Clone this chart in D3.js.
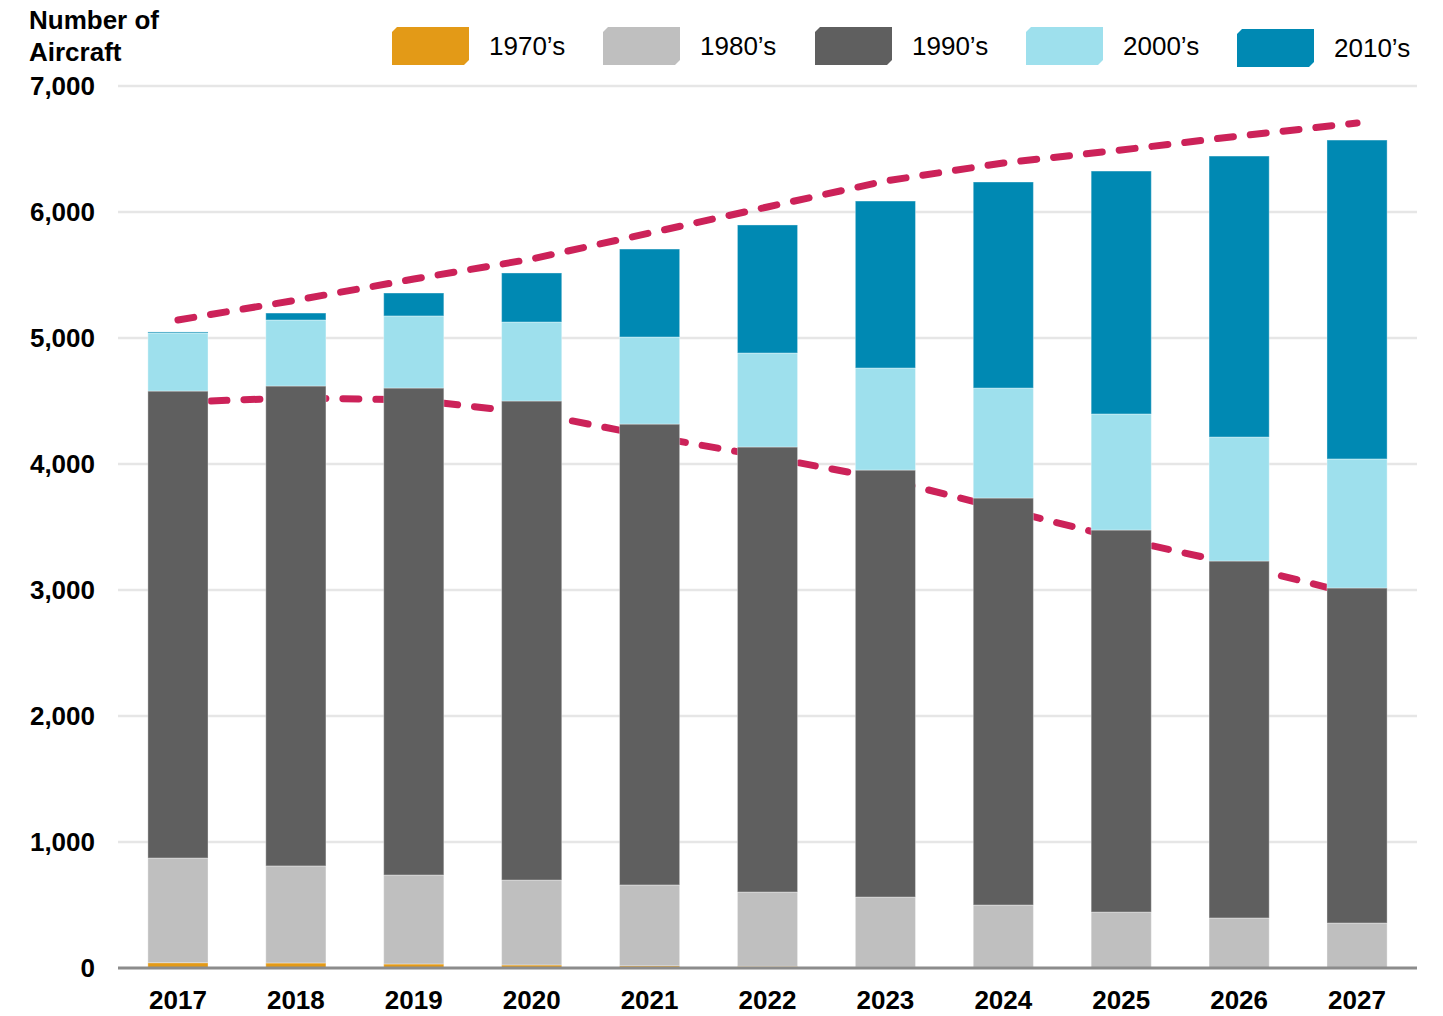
<!DOCTYPE html>
<html>
<head>
<meta charset="utf-8">
<script src="https://cdn.jsdelivr.net/npm/d3@7"></script>
<style>
  body { margin: 0; background: #fff; }
  svg text { font-family: "Liberation Sans", Arial, sans-serif; fill: #000; }
</style>
</head>
<body>
<svg width="1443" height="1016"></svg>
<script>
"use strict";

const years = ["2017","2018","2019","2020","2021","2022","2023","2024","2025","2026","2027"];
const decades = ["1970\u2019s","1980\u2019s","1990\u2019s","2000\u2019s","2010\u2019s"];
const s1970 = [42, 40, 32, 24, 17, 13, 8, 6, 3, 2, 1];
const s1980 = [831, 770, 706, 674, 642, 590, 555, 494, 441, 395, 356];
const s1990 = [3706, 3809, 3865, 3802, 3658, 3532, 3389, 3230, 3032, 2833, 2659];
const s2000 = [461, 524, 572, 627, 691, 746, 810, 873, 921, 984, 1024];
const s2010 = [8, 55, 182, 389, 698, 1016, 1325, 1635, 1928, 2230, 2531];
const upperTrend = [5143, 5300, 5468, 5627, 5833, 6040, 6246, 6389, 6492, 6603, 6706];
const lowerTrend = [4492, 4524, 4508, 4405, 4222, 4056, 3881, 3643, 3405, 3198, 2960];
const yTicks = [0, 1000, 2000, 3000, 4000, 5000, 6000, 7000];
const colors = ["#e39a17", "#bfbfbf", "#5f5f5f", "#9ee0ed", "#0089b3"];

const svg = d3.select("svg");

const x = d3.scaleBand().domain(years).range([119, 1416]).paddingInner(0.49).paddingOuter(0.245);
const y = d3.scaleLinear().domain([0, 7000]).range([968, 86]);

// table for the stack
const series = [s1970, s1980, s1990, s2000, s2010];
const table = years.map((yr, i) => {
  const row = { year: yr };
  decades.forEach((d, k) => row[d] = series[k][i]);
  return row;
});
const stacked = d3.stack().keys(decades)(table);

// gridlines
svg.append("g")
  .selectAll("line")
  .data(yTicks.filter(t => t > 0))
  .join("line")
  .attr("x1", 118).attr("x2", 1417)
  .attr("y1", d => y(d)).attr("y2", d => y(d))
  .attr("stroke", "#e6e6e6")
  .attr("stroke-width", 2.5);

// y tick labels
svg.append("g")
  .selectAll("text")
  .data(yTicks)
  .join("text")
  .attr("x", 95)
  .attr("y", d => y(d))
  .attr("dy", "0.36em")
  .attr("text-anchor", "end")
  .style("font-size", "26px")
  .style("font-weight", "bold")
  .text(d3.format(","));

// axis title
svg.append("text")
  .attr("x", 29).attr("y", 29)
  .style("font-size", "26px").style("font-weight", "bold")
  .text("Number of");
svg.append("text")
  .attr("x", 29).attr("y", 61)
  .style("font-size", "26px").style("font-weight", "bold")
  .text("Aircraft");

const trend = d3.line()
  .x((d, i) => x(years[i]) + x.bandwidth() / 2)
  .y(d => y(d));

// lower trend line sits behind the bars
svg.append("path")
  .datum(lowerTrend)
  .attr("d", trend)
  .attr("fill", "none")
  .attr("stroke", "#cc2259")
  .attr("stroke-width", 7)
  .attr("stroke-linecap", "round")
  .attr("stroke-dasharray", "16 17");

// bars
svg.append("g")
  .selectAll("g")
  .data(stacked)
  .join("g")
  .attr("fill", (d, i) => colors[i])
  .selectAll("rect")
  .data(d => d)
  .join("rect")
  .attr("x", d => x(d.data.year))
  .attr("width", x.bandwidth())
  .attr("y", d => y(d[1]))
  .attr("height", d => y(d[0]) - y(d[1]))
  .attr("stroke", "#ffffff")
  .attr("stroke-opacity", 0.35)
  .attr("stroke-width", 1);

// baseline
svg.append("line")
  .attr("x1", 118).attr("x2", 1417)
  .attr("y1", y(0)).attr("y2", y(0))
  .attr("stroke", "#8c8c8c")
  .attr("stroke-width", 3);

// x labels
svg.append("g")
  .selectAll("text")
  .data(years)
  .join("text")
  .attr("x", d => x(d) + x.bandwidth() / 2)
  .attr("y", 1000)
  .attr("dy", "0.36em")
  .attr("text-anchor", "middle")
  .style("font-size", "26px")
  .style("font-weight", "bold")
  .text(d => d);

// upper trend line
svg.append("path")
  .datum(upperTrend)
  .attr("d", trend)
  .attr("fill", "none")
  .attr("stroke", "#cc2259")
  .attr("stroke-width", 7)
  .attr("stroke-linecap", "round")
  .attr("stroke-dasharray", "16 17");

// legend
const legendX = [392, 603, 815, 1026, 1237];
const legend = svg.append("g")
  .selectAll("g")
  .data(decades)
  .join("g")
  .attr("transform", (d, i) => `translate(${legendX[i]},${i === 4 ? 29 : 27})`);

legend.append("path")
  .attr("d", "M5,0 H77 V33 L72,38 H0 V5 Z")
  .attr("fill", (d, i) => colors[i]);

legend.append("text")
  .attr("x", 97)
  .attr("y", 19)
  .attr("dy", "0.36em")
  .style("font-size", "26px")
  .text(d => d);
</script>
</body>
</html>
